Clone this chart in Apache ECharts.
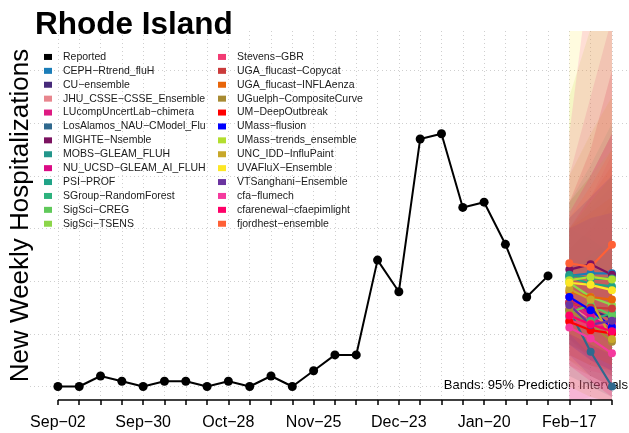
<!DOCTYPE html>
<html><head><meta charset="utf-8">
<script src="https://cdn.jsdelivr.net/npm/echarts@6/dist/echarts.min.js"></script>
<style>html,body{margin:0;padding:0;background:#fff}#c{width:629px;height:433px}</style>
</head><body><div id="c"></div>
<script>
// ---- data ----
const tickLabels = ['Sep\u221202', 'Sep\u221230', 'Oct\u221228', 'Nov\u221225', 'Dec\u221223', 'Jan\u221220', 'Feb\u221217'];
const labelWeeks = [0, 4, 8, 12, 16, 20, 24];
const tickWeeks = [0,1,2,3,4,5,6,7,8,9,10,11,12,13,14,15,16,17,18,19,20,21,22,23,24,25,26];
const yGridValues = [0, 10, 20, 30, 40, 50, 60];
const reportedWeeks = [0,1,2,3,4,5,6,7,8,9,10,11,12,13,14,15,16,17,18,19,20,21,22,23];
const reported = [0,0,2,1,0,1,1,0,1,0,2,0,3,6,6,24,18,47,48,34,35,27,17,21];
const forecastWeeks = [24, 25, 26];
const modelNames = ['CEPH\u2212Rtrend_fluH','CU\u2212ensemble','JHU_CSSE\u2212CSSE_Ensemble','LUcompUncertLab\u2212chimera',
  'LosAlamos_NAU\u2212CModel_Flu','MIGHTE\u2212Nsemble','MOBS\u2212GLEAM_FLUH','NU_UCSD\u2212GLEAM_AI_FLUH','PSI\u2212PROF',
  'SGroup\u2212RandomForest','SigSci\u2212CREG','SigSci\u2212TSENS','Stevens\u2212GBR','UGA_flucast\u2212Copycat',
  'UGA_flucast\u2212INFLAenza','UGuelph\u2212CompositeCurve','UM\u2212DeepOutbreak','UMass\u2212flusion',
  'UMass\u2212trends_ensemble','UNC_IDD\u2212InfluPaint','UVAFluX\u2212Ensemble','VTSanghani\u2212Ensemble',
  'cfa\u2212flumech','cfarenewal\u2212cfaepimlight','fjordhest\u2212ensemble'];
const modelColors = ['#1A7DB8','#472A7A','#E8868E','#DE1A82','#30698E','#7B1260','#23968B','#DB0B85','#20A387',
  '#2DB27D','#60C95A','#8CD64A','#F23C74','#CB3B3B','#E8650A','#A88B33','#FF0000','#0000FF',
  '#B3DE2F','#C8A82A','#FDE725','#6B34A0','#F53A9E','#FF0068','#FF6036'];
const fcMedian = [
  [21,21.5,21.5],[16,14.5,13],[15,13,12],[16,13,10],[14.5,6.6,0],[22.2,23.2,21.2],[21.2,20.5,20.5],
  [17,13.5,10.5],[20.8,19.5,19],[13.2,12.5,14],[14,15.5,13.5],[19.7,17,15.5],[12.5,11.5,12],
  [15.8,15,14.8],[18,17,16.5],[14.5,12,8.5],[12.3,10.7,10.1],[17,14.5,11.3],[20.2,20.8,20.3],
  [18.5,16.5,9],[19.7,19.3,18.3],[15.5,11.7,12.5],[11.2,9.1,6.3],[13.5,11.8,10.5],[23.4,22.7,26.9]];
const fcLower = [
  [12,10,8],[9,6,4],[-3,-2,-3],[9,5,2],[2,0,-2],[12,10,8],[10,8,6],[-3,-3,-4],[12,9,7],[8,6,5],[6,4,2],[8,5,3],
  [5,3,2],[4,2,0],[8,6,4],[5,2,0],[6,4,3],[8,5,3],[10,8,6],[0,-2,-3],[10,8,6],[6,2,0],[-3,-4,-6],[4,1,-2],[10,6,4]];
const fcUpper = [
  [30,34,38],[26,30,35],[35,45,60],[35,45,60],[30,28,25],[35,40,48],[35,42,50],[40,55,70],[32,36,40],
  [22,25,28],[30,35,40],[35,40,45],[30,36,44],[30,36,42],[30,33,36],[30,35,40],[20,20,21],[30,32,33],
  [55,68,80],[40,48,55],[72,78,85],[32,36,40],[48,80,110],[33,40,48],[32,38,45]];

// ---- layout constants ----
const X_MIN = -1.31, X_MAX = 26.80, Y_MIN = -2.56, Y_MAX = 67.5;
const FONT = 'Liberation Sans, Arial, Helvetica, sans-serif';
const RIBBON_ALPHA = 0.15;

const chart = echarts.init(document.getElementById('c'), null, {renderer: 'canvas'});

const series = [];
series.push({
  type: 'custom', name: 'ribbons', silent: true, z: 1,
  data: modelNames.map((n, i) => [forecastWeeks[0], fcMedian[i][0]]),
  renderItem: function (params, api) {
    const i = params.dataIndex;
    const pts = [];
    for (let h = 0; h < forecastWeeks.length; h++) pts.push(api.coord([forecastWeeks[h], fcUpper[i][h]]));
    for (let h = forecastWeeks.length - 1; h >= 0; h--) pts.push(api.coord([forecastWeeks[h], fcLower[i][h]]));
    const cs = params.coordSys;
    return {
      type: 'polygon', shape: {points: pts},
      style: {fill: modelColors[i], opacity: RIBBON_ALPHA},
      clipPath: {type: 'rect', shape: {x: cs.x, y: cs.y, width: cs.width, height: cs.height}}
    };
  }
});
modelNames.forEach((n, i) => {
  series.push({
    type: 'line', name: n, z: 2,
    data: forecastWeeks.map((w, h) => [w, fcMedian[i][h]]),
    symbol: 'circle', symbolSize: 8, showSymbol: true,
    itemStyle: {color: modelColors[i]},
    lineStyle: {color: modelColors[i], width: 2.2},
    emphasis: {disabled: true}
  });
});
series.push({
  type: 'line', name: 'Reported', z: 3,
  data: reportedWeeks.map((w, k) => [w, reported[k]]),
  symbol: 'circle', symbolSize: 9,
  itemStyle: {color: '#000'}, lineStyle: {color: '#000', width: 2},
  emphasis: {disabled: true}
});
series.push({
  type: 'line', name: 'axis', z: 5, clip: false, silent: true,
  data: [[tickWeeks[0], Y_MIN], [tickWeeks[tickWeeks.length - 1], Y_MIN]],
  symbol: 'none', lineStyle: {color: '#000', width: 1.6}
});

const legendCommon = {
  orient: 'vertical', icon: 'rect', itemWidth: 8, itemHeight: 6, itemGap: 0, padding: 0,
  textStyle: {fontFamily: FONT, fontSize: 10.5, color: '#1a1a1a', lineHeight: 13.9, padding: [0, 0, 0, 6]},
  selectedMode: false
};

chart.setOption({
  animation: false,
  backgroundColor: '#fff',
  title: {text: 'Rhode Island', left: 35, top: 9, padding: 0,
    textStyle: {fontFamily: FONT, fontSize: 31.5, fontWeight: 'bold', color: '#000'}},
  grid: {left: 28, right: 0, top: 31, bottom: 33, containLabel: false},
  legend: [
    Object.assign({}, legendCommon, {left: 44, top: 50, data: ['Reported'].concat(modelNames.slice(0, 12))}),
    Object.assign({}, legendCommon, {left: 218, top: 50, data: modelNames.slice(12)})
  ],
  xAxis: {
    type: 'value', min: X_MIN, max: X_MAX,
    axisLine: {show: false, onZero: false},
    axisTick: {show: true, length: 5, lineStyle: {color: '#000', width: 1.5}, customValues: tickWeeks},
    axisLabel: {customValues: labelWeeks, margin: 15, fontFamily: FONT, fontSize: 16, color: '#000',
      formatter: v => tickLabels[labelWeeks.indexOf(v)]},
    splitLine: {show: true, lineStyle: {color: '#cfcfcf', type: [1, 3], width: 1}}
  },
  yAxis: {
    type: 'value', min: Y_MIN, max: Y_MAX,
    name: 'New Weekly Hospitalizations', nameLocation: 'middle', nameGap: -4,
    nameTextStyle: {fontFamily: FONT, fontSize: 26, color: '#000'},
    axisLine: {show: false, onZero: false}, axisLabel: {show: false},
    axisTick: {show: false, customValues: yGridValues},
    splitLine: {show: true, lineStyle: {color: '#cfcfcf', type: [1, 3], width: 1}}
  },
  graphic: [{
    type: 'text', right: 1, top: 379,
    style: {text: 'Bands: 95% Prediction Intervals', fontFamily: FONT, fontSize: 13, fill: '#000'}
  }],
  series: series
});
</script></body></html>
